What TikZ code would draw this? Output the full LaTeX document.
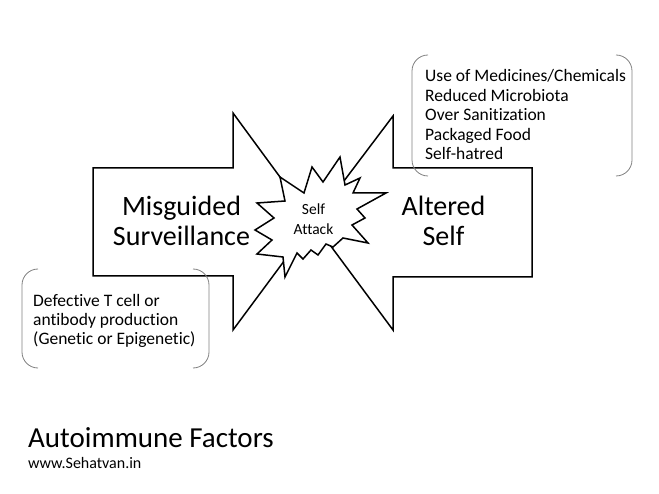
\documentclass[tikz,border=0pt]{standalone}
\usepackage{fontspec}
\setmainfont{Carlito}[Ligatures={NoCommon,NoRare}]
\begin{document}
\begin{tikzpicture}[x=1pt, y=-1pt,
    outline/.style = {draw, line width=1.5pt, fill=white, line join=miter},
    bracket/.style = {draw=black!50, line width=0.8pt, rounded corners=16pt},
    big/.style = {font=\fontsize{28}{30}\selectfont, align=center, inner sep=0pt},
    burst/.style = {font=\fontsize{15.5}{20}\selectfont, align=center, inner sep=0pt},
    list/.style = {font=\fontsize{17.5}{19.5}\selectfont, align=left, inner sep=0pt, anchor=base west}
  ]
    \useasboundingbox (0,0) rectangle (659,494);
    % define points
    \path
      (313,222) coordinate(T)
      (412,55) coordinate(B1)
      (22,269) coordinate(B2)
    ;
    % arrows
    \draw[outline]
      (T) -- +(-80,-109) -- +(-80,-54) -- +(-220,-54)
      -- +(-220,54) -- +(-80,54) -- +(-80,108) -- cycle
    ;
    \draw[outline]
      (T) -- +(80,-106) -- +(80,-54) -- +(219,-54)
      -- +(219,55) -- +(80,55) -- +(80,108) -- cycle
    ;
    % burst
    \draw[outline]
      (257,203) -- (285,201) -- (280,177) -- (304,193) -- (312,167)
      -- (323,182) -- (340,157) -- (345,185) -- (360,178) -- (353,193)
      -- (386,193) -- (357,209) -- (365,218) -- (352,225) -- (368,243)
      -- (343,238) -- (333,247) -- (326,244) -- (318,255) -- (311,250)
      -- (303,259) -- (297,253) -- (285,277) -- (283,257) -- (257,254)
      -- (272,240) -- (255,230) -- (274,218) -- cycle
    ;
    % brackets
    \foreach \c/\w/\h in {B1/220/121, B2/187/99}{
      \draw[bracket] (\c) +(16,0) -- +(0,0) -- +(0,\h) -- +(16,\h);
      \draw[bracket] (\c) +(\w-16,0) -- +(\w,0) -- +(\w,\h) -- +(\w-16,\h);
    }
    % labels
    \node[big] (mis) at (181.5,221) {Misguided\\Surveillance};
    \node[big] (alt) at (443.5,221) {Altered\\Self};
    \node[burst] (att) at (313.5,219) {Self\\Attack};
    \node[list] (env) at (425,160)
      {Use of Medicines/Chemicals\\Reduced Microbiota\\Over Sanitization\\Packaged Food\\Self-hatred};
    \node[list] (gen) at (33,345)
      {Defective T cell or\\antibody production\\(Genetic or Epigenetic)};
    % title
    \node[font=\fontsize{29}{32}\selectfont, inner sep=0pt, anchor=base west] (title) at (28,447) {Autoimmune Factors};
    \node[font=\fontsize{16}{18}\selectfont, inner sep=0pt, anchor=base west] (web) at (28,468) {www.Sehatvan.in};
  \end{tikzpicture}
\end{document}
